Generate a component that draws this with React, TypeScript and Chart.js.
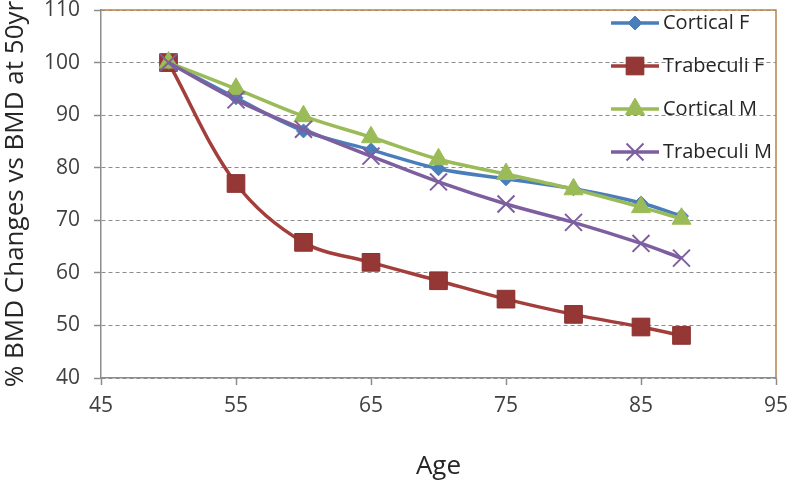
import React, { useEffect, useRef } from 'react';
import { Chart, registerables } from 'chart.js';
import { drawPoint } from 'chart.js/helpers';

Chart.register(...registerables);

// ---- Data ----
const AGES = [50, 55, 60, 65, 70, 75, 80, 85, 88];
const CORTICAL_F = [100, 93.3, 87, 83.4, 79.8, 77.9, 76, 73.3, 70.8];
const TRABECULI_F = [100, 77, 65.8, 62, 58.5, 55, 52.1, 49.7, 48.1];
const CORTICAL_M = [100, 95, 89.8, 85.8, 81.6, 78.8, 75.9, 72.5, 70.3];
const TRABECULI_M = [100, 92.9, 87.3, 82.2, 77.3, 73.1, 69.6, 65.6, 62.8];
const SERIES_LABELS = ['Cortical F', 'Trabeculi F', 'Cortical M', 'Trabeculi M'];
const X_MIN = 45;
const X_MAX = 95;
const X_STEP = 10;
const Y_MIN = 40;
const Y_MAX = 110;
const Y_STEP = 10;
const X_TITLE = 'Age';
const Y_TITLE = '% BMD Changes vs BMD at 50yr';

const FONT = '"Open Sans", "Liberation Sans", sans-serif';

const toPoints = (vals: number[]) => AGES.map((a, i) => ({ x: a, y: vals[i] }));

const legendPlugin = {
  id: 'customLegend',
  afterDatasetsDraw(chart: any) {
    const { ctx, chartArea } = chart;
    const x1 = chartArea.right - 165;
    const x2 = chartArea.right - 117;
    const xm = (x1 + x2) / 2;
    const tx = chartArea.right - 113;
    ctx.save();
    chart.data.datasets.forEach((ds: any, i: number) => {
      const y = chartArea.top + 13 + i * 43;
      ctx.setLineDash([]);
      ctx.strokeStyle = ds.borderColor;
      ctx.lineWidth = ds.borderWidth;
      ctx.beginPath();
      ctx.moveTo(x1, y);
      ctx.lineTo(x2, y);
      ctx.stroke();
      ctx.fillStyle = ds.pointBackgroundColor;
      ctx.strokeStyle = ds.pointBorderColor;
      ctx.lineWidth = ds.pointBorderWidth;
      drawPoint(ctx, { pointStyle: ds.pointStyle, radius: ds.pointRadius, borderWidth: ds.pointBorderWidth, rotation: 0 }, xm, y);
      ctx.fillStyle = '#262626';
      ctx.font = `20px ${FONT}`;
      ctx.textBaseline = 'middle';
      ctx.textAlign = 'left';
      ctx.fillText(ds.label, tx, y);
    });
    ctx.restore();
  },
};

const framePlugin = {
  id: 'frame',
  beforeDatasetsDraw(chart: any) {
    const { ctx, chartArea } = chart;
    ctx.save();
    ctx.setLineDash([]);
    ctx.strokeStyle = '#B8844E';
    ctx.lineWidth = 1.5;
    ctx.beginPath();
    ctx.moveTo(chartArea.left, chartArea.top);
    ctx.lineTo(chartArea.right, chartArea.top);
    ctx.lineTo(chartArea.right, chartArea.bottom);
    ctx.stroke();
    ctx.restore();
  },
};

const zeroPad = (s: any) => {
  s.paddingTop = 0;
  s.paddingBottom = 0;
  s.paddingLeft = 0;
  s.paddingRight = 0;
};

const CANVAS_W = 790;
const CANVAS_H = 486;

export default function App() {
  const ref = useRef<HTMLCanvasElement | null>(null);

  useEffect(() => {
    document.body.style.margin = '0';
    document.body.style.overflow = 'hidden';
    const canvas = ref.current;
    if (!canvas) return;
    const chart = new Chart(canvas, {
      type: 'line',
      data: {
        datasets: [
          {
            label: SERIES_LABELS[0],
            data: toPoints(CORTICAL_F),
            borderColor: '#4A7EBB',
            borderWidth: 3.5,
            pointStyle: 'rectRot',
            pointRadius: 7,
            pointBackgroundColor: '#4A7EBB',
            pointBorderColor: '#4A7EBB',
            pointBorderWidth: 1,
            tension: 0.35,
            order: 2,
          },
          {
            label: SERIES_LABELS[1],
            data: toPoints(TRABECULI_F),
            borderColor: '#A33E3A',
            borderWidth: 3.5,
            pointStyle: 'rect',
            pointRadius: 12.5,
            pointBackgroundColor: '#953735',
            pointBorderColor: '#8A322F',
            pointBorderWidth: 1,
            tension: 0.35,
            order: 3,
          },
          {
            label: SERIES_LABELS[2],
            data: toPoints(CORTICAL_M),
            borderColor: '#9BBB59',
            borderWidth: 3.5,
            pointStyle: 'triangle',
            pointRadius: 11,
            pointBackgroundColor: '#9BBB59',
            pointBorderColor: '#9BBB59',
            pointBorderWidth: 1,
            tension: 0.35,
            order: 1,
          },
          {
            label: SERIES_LABELS[3],
            data: toPoints(TRABECULI_M),
            borderColor: '#7D5FA0',
            borderWidth: 3.5,
            pointStyle: 'crossRot',
            pointRadius: 12,
            pointBackgroundColor: '#7D5FA0',
            pointBorderColor: '#7D5FA0',
            pointBorderWidth: 2,
            tension: 0.35,
            order: 0,
          },
        ],
      },
      options: {
        responsive: false,
        animation: false,
        layout: { padding: { top: 6, right: 9, left: 0, bottom: 0 } },
        plugins: {
          legend: { display: false },
          tooltip: { enabled: false },
        },
        scales: {
          x: {
            type: 'linear',
            min: X_MIN,
            max: X_MAX,
            afterFit: (s: any) => { s.height = 104; zeroPad(s); },
            ticks: {
              stepSize: X_STEP,
              autoSkip: false,
              maxRotation: 0,
              padding: 8,
              color: '#404040',
              font: { family: FONT, size: 21 },
            },
            grid: {
              drawOnChartArea: false,
              drawTicks: true,
              tickLength: 7,
              tickColor: '#8C8C8C',
              tickWidth: 1.5,
            },
            border: { display: true, color: '#8C8C8C', width: 1.5 },
            title: {
              display: true,
              text: X_TITLE,
              color: '#262626',
              font: { family: FONT, size: 26 },
              padding: { top: 0, bottom: 0 },
            },
          },
          y: {
            type: 'linear',
            min: Y_MIN,
            max: Y_MAX,
            afterFit: (s: any) => { s.width = 101; zeroPad(s); },
            ticks: {
              stepSize: Y_STEP,
              padding: 14,
              color: '#404040',
              font: { family: FONT, size: 21 },
            },
            grid: {
              drawTicks: true,
              tickLength: 7,
              color: '#8C8C8C',
              lineWidth: 1,
              tickColor: '#8C8C8C',
              tickWidth: 1.5,
              tickBorderDash: [],
            },
            border: { display: true, color: '#8C8C8C', width: 1.5, dash: [4, 3] },
            title: {
              display: true,
              text: Y_TITLE,
              color: '#262626',
              font: { family: FONT, size: 26 },
              padding: { top: 0, bottom: 0 },
            },
          },
        },
      } as any,
      plugins: [framePlugin, legendPlugin],
    });
    return () => chart.destroy();
  }, []);

  return (
    <div style={{ width: 787, height: 482, overflow: 'hidden' }}>
      <canvas
        ref={ref}
        width={CANVAS_W}
        height={CANVAS_H}
        style={{ display: 'block', marginTop: -4 }}
      />
    </div>
  );
}
